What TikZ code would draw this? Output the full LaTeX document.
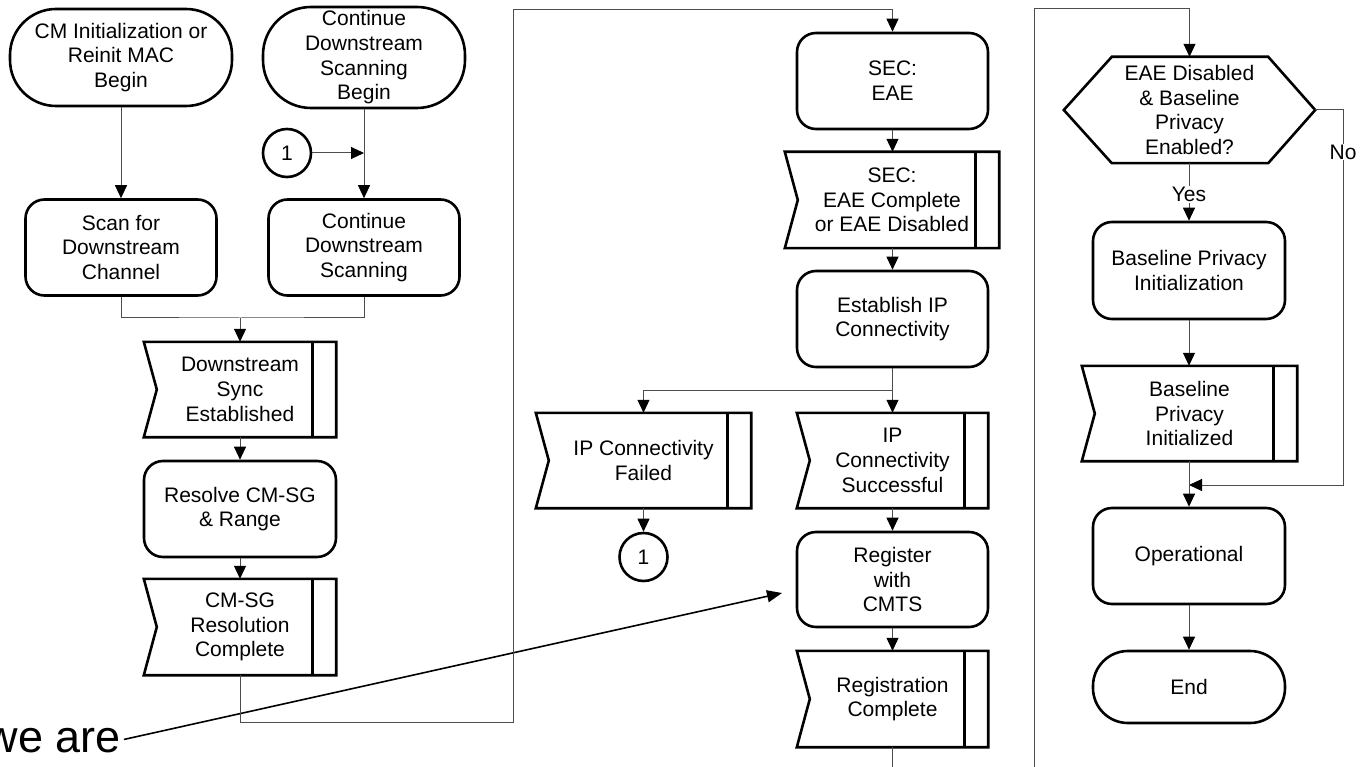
\documentclass[tikz,border=0pt]{standalone}
\usepackage{fontspec}
\setmainfont{Liberation Sans}
\usetikzlibrary{arrows.meta}
\newcommand\evshape[1]{%
  \draw[boxline] (#1.north west) -- (#1.north east) -- (#1.south east) -- (#1.south west) -- ([xshift=13pt]#1.west) -- cycle;
  \draw[boxline] ([xshift=-24pt]#1.north east) -- ([xshift=-24pt]#1.south east);}
\begin{document}
\begin{tikzpicture}[x=1pt,y=-1pt,
  every node/.style={font=\fontsize{21}{24.7}\selectfont, align=center, inner sep=0pt},
  boxline/.style={line width=2.6pt, black},
  proc/.style={draw, boxline, rounded corners=19pt, minimum width=191pt, minimum height=96pt},
  term/.style={draw, boxline, rounded corners=46pt, minimum height=97pt},
  ev/.style={minimum width=192pt, minimum height=95pt},
  circ/.style={draw, boxline, circle, minimum size=48pt},
  conn/.style={line width=1pt, black!70},
  arr/.style={conn, -{Triangle[length=13pt,width=12pt,color=black]}},
  lbl/.style={fill=white, text=black, inner sep=1pt},
]
\useasboundingbox (0,0) rectangle (1360,767);

% column 1
\node[term, minimum width=222pt] (termA) at (121,57.5) {CM Initialization or\\Reinit MAC\\Begin};
\node[term, minimum width=202pt, minimum height=101pt, rounded corners=48pt] (termB) at (364,57.5) {Continue\\Downstream\\Scanning\\Begin};
\node[circ] (c1a) at (287,153) {1};
\node[proc] (scan) at (121,247.5) {Scan for\\Downstream\\Channel};
\node[proc] (cont) at (364,247.5) {Continue\\Downstream\\Scanning};
\node[ev] (sync) at (240,389.5) {Downstream\\Sync\\Established};
\evshape{sync}
\node[proc, minimum width=192pt] (resolve) at (240,509) {Resolve CM-SG\\\& Range};
\node[ev, minimum height=96pt] (cmsg) at (240,627) {CM-SG\\Resolution\\Complete};
\evshape{cmsg}

% column 2
\node[proc] (sec) at (892.5,81) {SEC:\\EAE};
\node[ev, minimum width=214pt, minimum height=96pt] (secev) at (892,200) {SEC:\\EAE Complete\\or EAE Disabled};
\evshape{secev}
\node[proc] (est) at (892.5,319) {Establish IP\\Connectivity};
\node[ev, minimum width=215pt] (failed) at (643.5,460.5) {IP Connectivity\\Failed};
\evshape{failed}
\node[ev, minimum width=191pt] (succ) at (892.5,460.5) {IP\\Connectivity\\Successful};
\evshape{succ}
\node[circ] (c1b) at (643.5,557) {1};
\node[proc, minimum height=95pt] (reg) at (892.5,579.5) {Register\\with\\CMTS};
\node[ev, minimum width=191pt, minimum height=96pt] (regc) at (892.5,699) {Registration\\Complete};
\evshape{regc}

% column 3
\node[minimum width=251pt, minimum height=106pt] (hex) at (1189.5,110) {EAE Disabled\\\& Baseline\\Privacy\\Enabled?};
\draw[boxline] (hex.west) -- ([xshift=48pt]hex.north west) -- ([xshift=-47pt]hex.north east) -- (hex.east) -- ([xshift=-47pt]hex.south east) -- ([xshift=48pt]hex.south west) -- cycle;
\node[proc, minimum width=192pt, minimum height=97pt] (bpi) at (1189,270.5) {Baseline Privacy\\Initialization};
\node[ev, minimum width=215pt] (bpied) at (1189.5,413.5) {Baseline\\Privacy\\Initialized};
\evshape{bpied}
\node[proc, minimum width=192pt] (op) at (1189,556) {Operational};
\node[term, minimum width=192pt, minimum height=72pt, rounded corners=35pt] (end) at (1189,687) {End};

% "we are" pointer
\node[font=\fontsize{45}{50}\selectfont, anchor=base east] (weare) at (121,752) {we are};
\coordinate (tipR) at (782,593);
\draw[line width=1.6pt, black, -{Triangle[length=15pt,width=12pt]}, shorten <=3pt] (weare.east) -- (tipR);

% connectors column 1
\draw[arr] (termA.south) -- (scan.north);
\draw[arr] (termB.south) -- (cont.north);
\draw[arr] (c1a.east) -- (c1a.east -| termB.south);
\coordinate (m1) at (240,318);
\draw[conn] (scan.south) |- (m1) -| (cont.south);
\draw[arr] (m1) -- (sync.north);
\draw[arr] (sync.south) -- (resolve.north);
\draw[arr] (resolve.south) -- (cmsg.north);
\coordinate (r1) at (513,722);
\coordinate (r2) at (513,10);
\draw[arr] (cmsg.south) |- (r1) -- (r2) -| (sec.north);

% connectors column 2
\draw[arr] (sec.south) -- (secev.north -| sec.south);
\draw[arr] (secev.south -| est.north) -- (est.north);
\coordinate (b1) at (892.5,390);
\draw[arr] (est.south) -- (succ.north);
\draw[arr] (b1) -| (failed.north);
\draw[arr] (failed.south) -- (c1b.north);
\draw[arr] (succ.south) -- (reg.north);
\draw[arr] (reg.south) -- (regc.north);
\coordinate (out1) at (892.5,767);
\draw[conn] (regc.south) -- (out1);

% connectors column 3
\coordinate (in1) at (1034,767);
\coordinate (in2) at (1034,9);
\draw[arr] (in1) -- (in2) -| (hex.north);
\draw[arr] (hex.south -| bpi.north) -- node[lbl, pos=0.55] (yes) {Yes} (bpi.north);
\draw[arr] (bpi.south) -- (bpied.north -| bpi.south);
\coordinate (n1) at (1343,110);
\coordinate (n2) at (1343,485);
\coordinate (mj) at (1189,485);
\draw[arr] (hex.east) -- (n1) -- node[lbl, pos=0.112] (no) {No} (n2) -- (mj);
\draw[arr] (bpied.south -| op.north) -- (op.north);
\draw[arr] (op.south) -- (end.north);
\end{tikzpicture}
\end{document}
